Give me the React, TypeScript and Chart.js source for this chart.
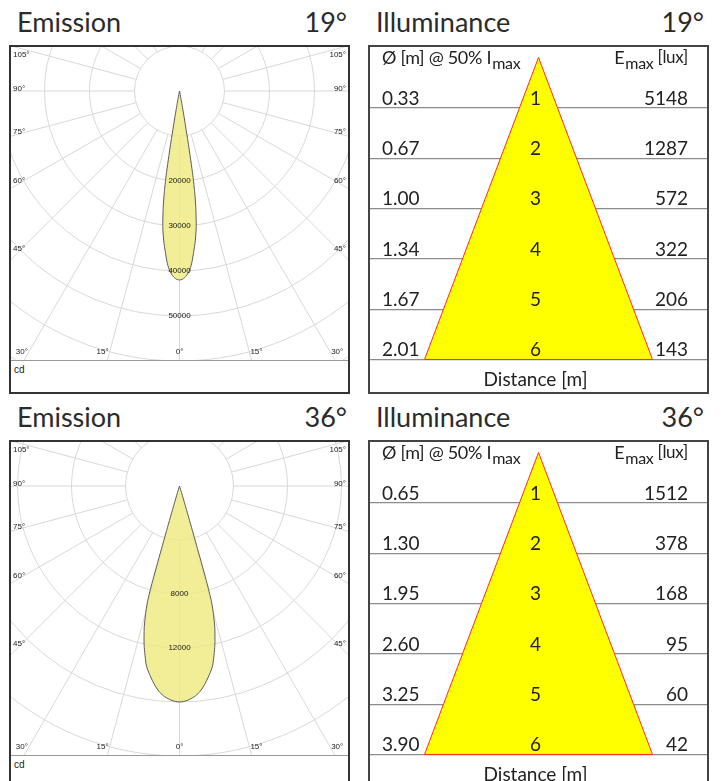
import React, { useEffect, useRef } from "react";
import { Chart, registerables } from "chart.js";

Chart.register(...registerables);

// ---------- Emission (luminous intensity, cd) ----------
const beamAngles = ["19°", "36°"];

const polarAngles19 = [0, 1, 2, 3, 4, 5, 6, 7, 8, 8.5, 9, 9.5, 10, 10.5, 11, 12];
const intensity19 = [42000, 41800, 41200, 40200, 38500, 36000, 33500, 30500, 26000, 23000, 19000, 12000, 6000, 2500, 800, 0];

const polarAngles36 = [0, 2, 4, 5.5, 7, 9, 10.5, 12.5, 14, 15, 15.5, 15.8, 16, 16.2, 16.5, 17, 18];
const intensity36 = [16000, 15900, 15650, 15350, 14900, 14150, 13500, 12100, 10800, 9600, 8800, 7500, 5000, 3000, 1500, 500, 0];

const ringStep19 = 10000;
const ringStep36 = 4000;
const ringLabels19 = [20000, 30000, 40000, 50000];
const ringLabels36 = [8000, 12000];

const sideAngleTicks = [105, 90, 75, 60, 45];
const bottomAngleTicks = [30, 15, 0];

// ---------- Illuminance ----------
const distances = [1, 2, 3, 4, 5, 6];
const diameter19 = [0.33, 0.67, 1.0, 1.34, 1.67, 2.01];
const emax19 = [5148, 1287, 572, 322, 206, 143];
const diameter36 = [0.65, 1.3, 1.95, 2.6, 3.25, 3.9];
const emax36 = [1512, 378, 168, 95, 60, 42];

const ROW = 395;
const POLAR_W = 337;
const POLAR_H = 313;
const POLAR_CY = 44;
const ILL_W = 337;
const ILL_H = 345;

const TEXT_FONT = "Lato, 'Open Sans', sans-serif";
const SMALL_FONT = "'Liberation Sans', 'DejaVu Sans', sans-serif";

function toXY(deg: number, I: number) {
  const t = (deg * Math.PI) / 180;
  return { x: I * Math.sin(t), y: -I * Math.cos(t) };
}

function EmissionChart(props: {
  angles: number[];
  intensity: number[];
  ringStep: number;
  ringLabels: number[];
  pxPerCd: number;
}) {
  const ref = useRef<HTMLCanvasElement>(null);
  useEffect(() => {
    const { angles, intensity, ringStep, ringLabels, pxPerCd } = props;
    const pts: { x: number; y: number }[] = [];
    for (let i = angles.length - 1; i >= 0; i--) pts.push(toXY(-angles[i], intensity[i]));
    for (let i = 1; i < angles.length; i++) pts.push(toXY(angles[i], intensity[i]));

    const polarGrid = {
      id: "polarGrid",
      beforeDatasetsDraw(chart: any) {
        const { ctx, chartArea: a, scales } = chart;
        const cx = scales.x.getPixelForValue(0);
        const cy = scales.y.getPixelForValue(0);
        const pr = (v: number) => scales.x.getPixelForValue(v) - cx;
        ctx.save();
        ctx.beginPath();
        ctx.rect(a.left, a.top, a.right - a.left, a.bottom - a.top);
        ctx.clip();
        ctx.strokeStyle = "#d8d8d8";
        ctx.lineWidth = 1;
        const rings = 12;
        for (let k = 1; k <= rings; k++) {
          ctx.beginPath();
          ctx.arc(cx, cy, pr(ringStep * k), 0, Math.PI * 2);
          ctx.stroke();
        }
        const r0 = pr(ringStep);
        const r1 = pr(ringStep * rings);
        for (let d = 0; d < 360; d += 15) {
          const t = (d * Math.PI) / 180;
          ctx.beginPath();
          ctx.moveTo(cx + r0 * Math.sin(t), cy + r0 * Math.cos(t));
          ctx.lineTo(cx + r1 * Math.sin(t), cy + r1 * Math.cos(t));
          ctx.stroke();
        }
        ctx.restore();
      },
      afterDatasetsDraw(chart: any) {
        const { ctx, chartArea: a, scales } = chart;
        const cx = scales.x.getPixelForValue(0);
        const cy = scales.y.getPixelForValue(0);
        const pr = (v: number) => scales.x.getPixelForValue(v) - cx;
        ctx.save();
        ctx.fillStyle = "#1a1a1a";
        ctx.font = `8px ${SMALL_FONT}`;
        ctx.textBaseline = "middle";
        ctx.textAlign = "center";
        ringLabels.forEach((v) => {
          ctx.fillText(String(v), cx, cy + pr(v));
        });
        // side angle labels
        sideAngleTicks.forEach((deg) => {
          const t = (deg * Math.PI) / 180;
          const dx = cx - (a.left + 9);
          let yy = cy + (dx * Math.cos(t)) / Math.sin(t) - 2;
          yy = Math.max(a.top + 8, Math.min(a.bottom - 20, yy));
          ctx.textAlign = "left";
          ctx.fillText(`${deg}°`, a.left + 2, yy);
          ctx.textAlign = "right";
          ctx.fillText(`${deg}°`, a.right - 2, yy);
        });
        // bottom angle labels
        const by = a.bottom - 8;
        bottomAngleTicks.forEach((deg) => {
          const t = (deg * Math.PI) / 180;
          const off = deg === 0 ? 0 : 7;
          const dx = (by - cy) * Math.tan(t) + off;
          ctx.textAlign = "center";
          const xl = Math.max(a.left + 9, cx - dx);
          const xr = Math.min(a.right - 9, cx + dx);
          ctx.fillText(`${deg}°`, xl, by);
          if (deg !== 0) ctx.fillText(`${deg}°`, xr, by);
        });
        ctx.restore();
      },
    };

    const chart = new Chart(ref.current as HTMLCanvasElement, {
      type: "scatter",
      data: {
        datasets: [
          {
            data: pts,
            showLine: true,
            fill: "shape",
            backgroundColor: "rgba(238,234,128,0.82)",
            borderColor: "#5a5a5a",
            borderWidth: 1,
            pointRadius: 0,
            tension: 0.2,
          } as any,
        ],
      },
      options: {
        animation: false,
        responsive: true,
        maintainAspectRatio: false,
        layout: { padding: 0 },
        events: [],
        plugins: { legend: { display: false }, tooltip: { enabled: false } },
        scales: {
          x: { type: "linear", display: false, min: -POLAR_W / 2 / pxPerCd, max: POLAR_W / 2 / pxPerCd },
          y: { type: "linear", display: false, min: -(POLAR_H - POLAR_CY) / pxPerCd, max: POLAR_CY / pxPerCd },
        },
      },
      plugins: [polarGrid],
    });
    return () => chart.destroy();
  }, []);
  return (
    <div style={{ position: "relative", width: POLAR_W, height: POLAR_H }}>
      <canvas ref={ref} />
    </div>
  );
}

function IlluminanceChart(props: { diameter: number[]; emax: number[] }) {
  const ref = useRef<HTMLCanvasElement>(null);
  useEffect(() => {
    const { diameter, emax } = props;
    const last = distances[distances.length - 1];
    const half = diameter[diameter.length - 1] / 2;
    const xMax = (half * (ILL_W / 2)) / 114;
    const pxPerM = 50.33;
    const yMin = -10.5 / pxPerM;
    const yMax = yMin + ILL_H / pxPerM;
    const tri = [
      { x: 0, y: 0 },
      { x: -half, y: last },
      { x: half, y: last },
      { x: 0, y: 0 },
    ];

    const labels = {
      id: "illumLabels",
      afterDraw(chart: any) {
        const { ctx, chartArea: a, scales } = chart;
        const y = scales.y;
        const cxText = (a.left + a.right) / 2 - 3;
        const leftX = a.left + 12;
        const rightX = a.right - 19;
        ctx.save();
        ctx.fillStyle = "#222";
        ctx.textBaseline = "alphabetic";
        ctx.font = `19px ${TEXT_FONT}`;
        distances.forEach((d, i) => {
          const yy = y.getPixelForValue(d) - 3;
          ctx.textAlign = "left";
          ctx.fillText(diameter[i].toFixed(2), leftX, yy);
          ctx.textAlign = "center";
          ctx.fillText(String(d), cxText, yy);
          ctx.textAlign = "right";
          ctx.fillText(String(emax[i]), rightX, yy);
        });
        // footer
        ctx.textAlign = "center";
        ctx.font = `19px ${TEXT_FONT}`;
        ctx.fillText("Distance [m]", cxText, y.getPixelForValue(last) + 27);
        // header left
        const hy = y.getPixelForValue(0) + 6;
        ctx.textAlign = "left";
        (ctx as any).letterSpacing = "-0.3px";
        ctx.font = `18px ${TEXT_FONT}`;
        const mainL = "Ø [m] @ 50% I";
        ctx.fillText(mainL, leftX, hy);
        const wL = ctx.measureText(mainL).width;
        ctx.font = `16px ${TEXT_FONT}`;
        ctx.fillText("max", leftX + wL + 1, hy + 5);
        // header right
        ctx.font = `18px ${TEXT_FONT}`;
        const wE = ctx.measureText("E").width;
        ctx.font = `16px ${TEXT_FONT}`;
        const wM = ctx.measureText("max").width;
        ctx.font = `17px ${TEXT_FONT}`;
        const wU = ctx.measureText(" [lux]").width;
        const x0 = rightX - (wE + wM + wU + 1);
        ctx.font = `18px ${TEXT_FONT}`;
        ctx.fillText("E", x0, hy);
        ctx.font = `16px ${TEXT_FONT}`;
        ctx.fillText("max", x0 + wE + 1, hy + 5);
        ctx.font = `17px ${TEXT_FONT}`;
        ctx.fillText(" [lux]", x0 + wE + wM + 1, hy - 1);
        ctx.restore();
      },
    };

    const chart = new Chart(ref.current as HTMLCanvasElement, {
      type: "scatter",
      data: {
        datasets: [
          {
            data: tri,
            showLine: true,
            fill: "shape",
            backgroundColor: "#ffff00",
            borderColor: "#ff2a2a",
            borderWidth: 1,
            pointRadius: 0,
          } as any,
        ],
      },
      options: {
        animation: false,
        responsive: true,
        maintainAspectRatio: false,
        layout: { padding: 0 },
        events: [],
        plugins: { legend: { display: false }, tooltip: { enabled: false } },
        scales: {
          x: { type: "linear", display: false, min: -xMax, max: xMax },
          y: {
            type: "linear",
            reverse: true,
            min: yMin,
            max: yMax,
            z: 1,
            afterBuildTicks: (axis: any) => {
              axis.ticks = distances.map((v) => ({ value: v }));
            },
            ticks: { display: false },
            grid: { color: "#8c8c8c", lineWidth: 1.3, drawTicks: false },
            border: { display: false },
          } as any,
        },
      },
      plugins: [labels],
    });
    return () => chart.destroy();
  }, []);
  return (
    <div style={{ position: "relative", width: ILL_W, height: ILL_H }}>
      <canvas ref={ref} />
    </div>
  );
}

function Row(props: { index: number }) {
  const i = props.index;
  const o = i * ROW;
  const beam = beamAngles[i];
  const titleStyle: React.CSSProperties = {
    position: "absolute",
    top: o + 5,
    fontSize: 27,
    lineHeight: "34px",
    color: "#2b2b2b",
    fontWeight: 400,
    fontFamily: TEXT_FONT,
  };
  return (
    <>
      <div style={{ ...titleStyle, left: 17 }}>Emission</div>
      <div style={{ ...titleStyle, left: 10, width: 337, textAlign: "right" }}>{beam}</div>
      <div style={{ ...titleStyle, left: 376 }}>Illuminance</div>
      <div style={{ ...titleStyle, left: 368, width: 336, textAlign: "right" }}>{beam}</div>

      <div
        style={{
          position: "absolute",
          left: 9,
          top: o + 45,
          width: 341,
          height: 349,
          border: "2px solid #333",
          boxSizing: "border-box",
          background: "#fff",
        }}
      >
        {i === 0 ? (
          <EmissionChart
            angles={polarAngles19}
            intensity={intensity19}
            ringStep={ringStep19}
            ringLabels={ringLabels19}
            pxPerCd={4.5 / 1000}
          />
        ) : (
          <EmissionChart
            angles={polarAngles36}
            intensity={intensity36}
            ringStep={ringStep36}
            ringLabels={ringLabels36}
            pxPerCd={13.5 / 1000}
          />
        )}
        <div style={{ height: 1, background: "#9a9a9a" }} />
        <div
          style={{
            fontFamily: SMALL_FONT,
            fontSize: 10,
            color: "#222",
            paddingLeft: 3,
            paddingTop: 3,
            lineHeight: "11px",
          }}
        >
          cd
        </div>
      </div>

      <div
        style={{
          position: "absolute",
          left: 368,
          top: o + 45,
          width: 341,
          height: 349,
          border: "2px solid #444",
          boxSizing: "border-box",
          background: "#fff",
        }}
      >
        {i === 0 ? (
          <IlluminanceChart diameter={diameter19} emax={emax19} />
        ) : (
          <IlluminanceChart diameter={diameter36} emax={emax36} />
        )}
      </div>
    </>
  );
}

export default function App() {
  return (
    <div
      style={{
        position: "absolute",
        left: 0,
        top: 0,
        width: 724,
        height: 781,
        overflow: "hidden",
        background: "#fff",
      }}
    >
      <Row index={0} />
      <Row index={1} />
    </div>
  );
}
